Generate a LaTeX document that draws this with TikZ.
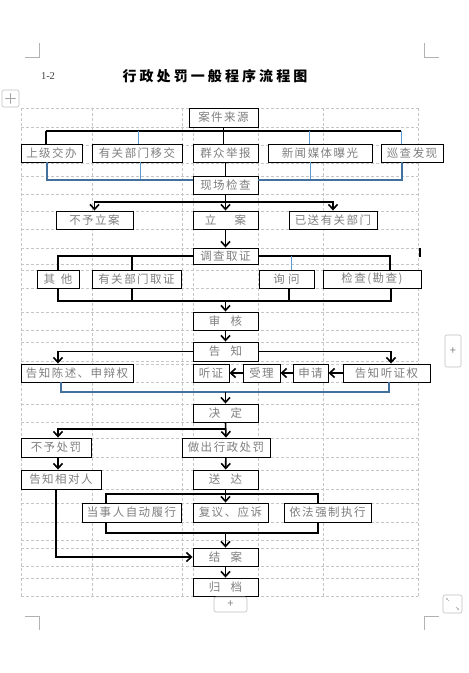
\documentclass[tikz,border=0pt]{standalone}
\usepackage{fontspec}
\setmainfont{Noto Sans CJK SC}
\newfontfamily\cjk[LetterSpace=13]{Noto Sans CJK SC}
\newfontfamily\titlefont[LetterSpace=22]{Noto Sans CJK SC}
\newfontfamily\numfont{Liberation Serif}
\usetikzlibrary{arrows.meta, positioning}
\definecolor{lineblue}{HTML}{5B9BD5}
\definecolor{steelblue}{HTML}{41719C}
\definecolor{textgray}{HTML}{7F7F7F}

\begin{document}
\begin{tikzpicture}[
    x=1pt, y=-1pt,
    every node/.style={font=\cjk\fontsize{11.5}{13}\selectfont},
    box/.style={rectangle, draw, line width=0.9pt, fill=white, text=textgray, inner sep=0pt, minimum height=18pt},
    arrow/.style={-{Straight Barb[length=5pt, width=9pt]}, line width=1.6pt},
    line/.style={line width=1.6pt},
    bluelink/.style={lineblue, line width=1pt},
    steellink/.style={steelblue, line width=1.5pt},
    gridline/.style={gray!45, dash pattern=on 3pt off 2pt, line width=0.5pt},
    uibox/.style={draw=gray!50, fill=white, rounded corners=2pt, line width=0.6pt},
    cropmark/.style={gray!60, line width=0.5pt}
]

\path[fill=white] (0,0) rectangle (469,673);
\useasboundingbox (0,0) rectangle (469,673);

% ============ PAGE AND TABLE ============
\draw[cropmark] (25,57) -- (39,57) -- (39,43);
\draw[cropmark] (439,57) -- (424,57) -- (424,43);
\draw[cropmark] (25,616) -- (39,616) -- (39,630);
\draw[cropmark] (439,616) -- (424,616) -- (424,630);

\foreach \gy in {108,127,145,163,176,194,211,229,248,264,270,288,312,330,342,361,364,382,404,422,438,457,470,489,503,522,540,548,566,578,596}
    \draw[gridline] (21,\gy) -- (418,\gy);
\foreach \gx in {21,92,182,193,258,323,418}
    \draw[gridline] (\gx,108) -- (\gx,596);

% ============ TITLE ============
\node[font=\numfont\fontsize{10.5}{12}\selectfont, text=black!75] (num) at (48,76) {1-2};
\node[font=\titlefont\bfseries\fontsize{14}{16}\selectfont] (title) at (215,76) {行政处罚一般程序流程图};

% execution frame behind the three boxes
\coordinate (brTL) at (106,494);
\coordinate (brBR) at (318,533);
\draw[line] (brTL) rectangle (brBR);

% ============ SOURCES ============
\node[box, minimum width=69pt, minimum height=19pt] (src) at (223.5,117.5) {案件来源};

\node[box, minimum width=61pt] (sj) at (51.5,153) {上级交办};
\node[box, minimum width=90pt] (bm) at (137,153) {有关部门移交};
\node[box, minimum width=65pt] (qz) at (225.5,153) {群众举报};
\node[box, minimum width=104pt] (xw) at (320,153) {新闻媒体曝光};
\node[box, minimum width=62pt] (xc) at (412,153) {巡查发现};

\node[box, minimum width=65pt] (xcjc) at (225.5,185) {现场检查};

% ============ FILING ============
\node[box, minimum width=77pt] (by) at (94.5,220) {不予立案};
\node[box, minimum width=65pt] (la) at (225.5,220) {立\hspace{1.6em}案};
\node[box, minimum width=88pt] (ys) at (333,220) {已送有关部门};

\node[box, minimum width=65pt, minimum height=16pt] (dc) at (225.5,256) {调查取证};

% ============ INVESTIGATION ============
\node[box, minimum width=42pt] (qt) at (58,279) {其\hspace{0.5em}他};
\node[box, minimum width=89pt] (yq) at (136.5,279) {有关部门取证};
\node[box, minimum width=55pt] (xwen) at (286.5,279) {询\hspace{0.3em}问};
\node[box, minimum width=98pt] (jc) at (372,279) {检查(勘查)};

\node[box, minimum width=65pt] (sh) at (225.5,321) {审\hspace{0.9em}核};
\node[box, minimum width=65pt, minimum height=19pt] (gz) at (225.5,351.5) {告\hspace{0.9em}知};

% ============ NOTIFICATION ============
\node[box, minimum width=112pt] (cs) at (77,373) {告知陈述、申辩权};
\node[box, minimum width=36pt] (tzh) at (211,373) {听证};
\node[box, minimum width=37pt] (sl) at (261.5,373) {受理};
\node[box, minimum width=35pt] (sq) at (310.5,373) {申请};
\node[box, minimum width=87pt] (tzq) at (386.5,373) {告知听证权};

\node[box, minimum width=65pt] (jd) at (225.5,413) {决\hspace{0.9em}定};

% ============ DECISION ============
\node[box, minimum width=70pt, minimum height=19pt] (bycf) at (56,447.5) {不予处罚};
\node[box, minimum width=88pt, minimum height=19pt] (zc) at (226,447.5) {做出行政处罚};

\node[box, minimum width=80pt, minimum height=19pt] (gzr) at (61,479.5) {告知相对人};
\node[box, minimum width=65pt, minimum height=19pt] (sd) at (225.5,479.5) {送\hspace{0.9em}达};

\node[box, minimum width=99pt, minimum height=19pt] (zx) at (131.5,512.5) {当事人自动履行};
\node[box, minimum width=75pt, minimum height=19pt] (fy) at (230.5,512.5) {复议、应诉};
\node[box, minimum width=87pt, minimum height=19pt] (qzzx) at (327.5,512.5) {依法强制执行};

\node[box, minimum width=65pt] (ja) at (225.5,557) {结\hspace{0.9em}案};
\node[box, minimum width=65pt] (gd) at (225.5,587) {归\hspace{0.9em}档};

% ============ CONNECTIONS ============
% sources bus
\coordinate (tA1) at (46,131);
\coordinate (tA2) at (138,131);
\coordinate (tA4) at (309,131);
\coordinate (tA5) at (401,131);
\draw[line] (src.south) -- (src.south |- tA1);
\draw[line] (tA1) -- (tA5);
\draw[line] (tA1) -- (tA1 |- sj.north);
\draw[line] (src.south |- tA1) -- (src.south |- qz.north);
\draw[bluelink] (tA2) -- (tA2 |- bm.north);
\draw[bluelink] (tA4) -- (tA4 |- xw.north);
\draw[bluelink] (tA5) -- (tA5 |- xc.north);

% sources to on-site check
\coordinate (tB1) at (47,180);
\coordinate (tB2) at (140,180);
\coordinate (tB4) at (310,180);
\coordinate (tB5) at (402,180);
\draw[bluelink] (tB2 |- bm.south) -- (tB2);
\draw[bluelink] (tB4 |- xw.south) -- (tB4);
\draw[steellink] (tB1 |- sj.south) -- (tB1) -- (tB1 -| xcjc.west);
\draw[steellink] (tB5 |- xc.south) -- (tB5) -- (tB5 -| xcjc.east);
\draw[line] (qz.south) -- (xcjc.north);

% filing
\coordinate (busC) at (225.5,202);
\draw[arrow] (xcjc.south) -- (la.north);
\draw[arrow] (busC) -| (by.north);
\draw[arrow] (busC) -| (ys.north);
\draw[arrow] (la) -- (dc);

% investigation branches
\coordinate (tC2) at (132,256);
\coordinate (tC3) at (291,256);
\coordinate (tC4) at (390,256);
\draw[line] (dc.west) -| (qt.north);
\draw[line] (tC2) -- (tC2 |- yq.north);
\draw[line] (dc.east) -- (tC4) -- (tC4 |- jc.north);
\draw[bluelink] (tC3) -- (tC3 |- xwen.north);
\draw[line] (420,248) -- (420,257);

\coordinate (tD1) at (58,301);
\coordinate (tD2) at (132,301);
\coordinate (tD3) at (289,301);
\coordinate (tD4) at (391,301);
\draw[line] (tD1 |- qt.south) -- (tD1) -- (tD4) -- (tD4 |- jc.south);
\draw[line] (tD2 |- yq.south) -- (tD2);
\draw[line] (tD3 |- xwen.south) -- (tD3);
\draw[arrow] (sh.north |- tD1) -- (sh.north);
\draw[arrow] (sh) -- (gz);

% notification
\coordinate (tE1) at (58,351.5);
\coordinate (tE2) at (391,351.5);
\draw[arrow] (gz.west) -- (tE1) -- (tE1 |- cs.north);
\draw[arrow] (gz.east) -- (tE2) -- (tE2 |- tzq.north);
\draw[arrow] (tzq) -- (sq);
\draw[arrow] (sq) -- (sl);
\draw[arrow] (sl) -- (tzh);

\coordinate (tF1) at (61,392);
\coordinate (tF2) at (389,392);
\draw[steellink] (tF1 |- cs.south) -- (tF1) -- (tF2) -- (tF2 |- tzq.south);
\draw[arrow] (jd.north |- tF1) -- (jd.north);

% decision
\coordinate (tG1) at (58,429);
\draw[arrow] (jd.south) -- (zc.north);
\draw[arrow] (jd.south |- tG1) -- (tG1) -- (tG1 |- bycf.north);
\draw[arrow] (tG1 |- bycf.south) -- (tG1 |- gzr.north);
\draw[arrow] (zc) -- (sd);
\draw[arrow] (sd.south) -- (sd.south |- fy.north);
\draw[arrow] (ja.north |- brBR) -- (ja.north);

\coordinate (tH1) at (56,489);
\draw[arrow] (tH1) |- (ja.west);
\draw[arrow] (ja) -- (gd);

% ============ EDITOR HANDLES ============
\draw[uibox] (2,90) rectangle (19,107);
\draw[gray!70, line width=0.5pt, {Stealth[length=2pt]}-{Stealth[length=2pt]}] (5,98.5) -- (16,98.5);
\draw[gray!70, line width=0.5pt, {Stealth[length=2pt]}-{Stealth[length=2pt]}] (10.5,93) -- (10.5,104);

\draw[uibox] (445,335) rectangle (461,367);
\node[text=gray, font=\fontsize{11}{12}\selectfont] (plusR) at (453,351) {+};

\draw[uibox] (214,597) rectangle (247,612);
\node[text=gray, font=\fontsize{11}{12}\selectfont] (plusB) at (230.5,604.5) {+};

\draw[uibox] (443,595) rectangle (462,613);
\draw[gray!70, line width=0.5pt, -{Stealth[length=2pt]}] (449,601) -- (446,598);
\draw[gray!70, line width=0.5pt, -{Stealth[length=2pt]}] (456,607) -- (459,610);

\end{tikzpicture}
\end{document}
